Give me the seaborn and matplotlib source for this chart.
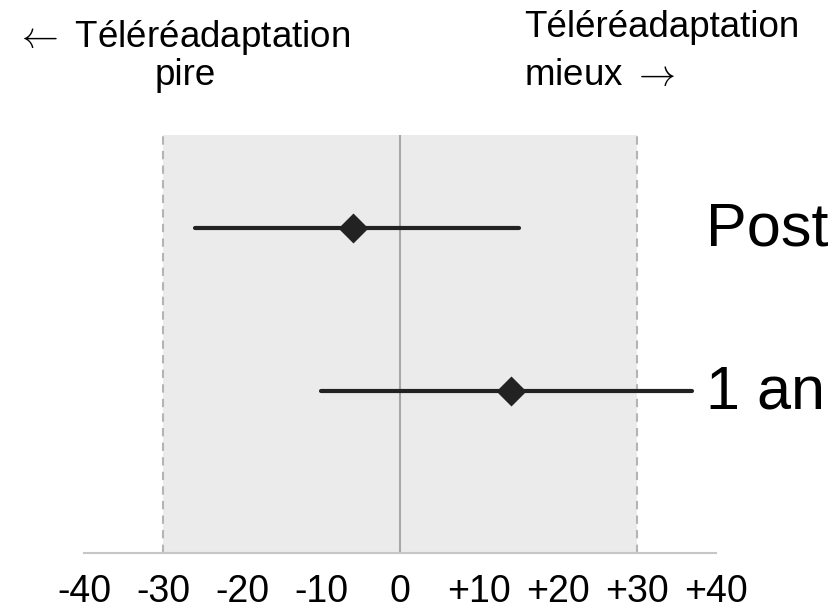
import numpy as np
import pandas as pd
import matplotlib
matplotlib.use('Agg')
import matplotlib.pyplot as plt
import seaborn as sns

# Data
moments = ['Post', '1 an']
ci_low = [-26, -10]
estimate = [-6, 14]
ci_high = [15, 37]
tick_values = [-40, -30, -20, -10, 0, 10, 20, 30, 40]
tick_labels = ['-40', '-30', '-20', '-10', '0', '+10', '+20', '+30', '+40']

# long form: low / estimate / high per moment -> median + (min, max) interval
df = pd.DataFrame({
    'moment': np.repeat(moments, 3),
    'value': np.ravel(np.column_stack([ci_low, estimate, ci_high])),
})

sns.set_style('white')
plt.rcParams['font.family'] = ['Liberation Sans', 'DejaVu Sans']
plt.rcParams['mathtext.fontset'] = 'cm'
plt.rcParams['text.color'] = 'black'

fig = plt.figure(figsize=(8.4, 6.12), dpi=100)
ax = fig.add_axes([84 / 840, 1 - 553 / 612, 632 / 840, (553 - 135) / 612])

# shaded zone and reference lines
ax.axvspan(-30, 30, color='#ebebeb', zorder=0, lw=0)
ax.axvline(0, color='#a8a8a8', lw=1.5, zorder=1)
for v in (-30, 30):
    ax.axvline(v, color='#b4b4b4', lw=1.5, ls=(0, (4, 3)), zorder=1)

sns.pointplot(data=df, x='value', y='moment', orient='h', order=moments,
              estimator='median', errorbar=lambda v: (v.min(), v.max()),
              color='#222222', marker='D', markersize=13, linestyle='none',
              err_kws={'linewidth': 3.0, 'solid_capstyle': 'round'}, ax=ax)

for i, m in enumerate(moments):
    ax.annotate(m, xy=(38.7, i), xytext=(0, 3), textcoords='offset points',
                fontsize=44, ha='left', va='center_baseline', color='black',
                annotation_clip=False)

ax.set_xlim(-40, 40)
ax.set_ylim(1.994, -0.57)
ax.set_xlabel('')
ax.set_ylabel('')
ax.set_yticks([])
ax.set_xticks(tick_values)
ax.set_xticklabels(tick_labels, fontsize=27,
                   family=['Liberation Sans Narrow', 'Liberation Sans', 'DejaVu Sans'])
ax.tick_params(axis='x', direction='in', length=5, color='#dcdcdc',
               labelcolor='black', pad=15)

for side in ('top', 'left', 'right'):
    ax.spines[side].set_visible(False)
ax.spines['bottom'].set_color('#c6c6c6')
ax.spines['bottom'].set_linewidth(1.5)

# direction annotations
fig.text(15 / 840, 1 - 47 / 612, r'$\leftarrow$ Téléréadaptation', fontsize=26.5, va='baseline', ha='left')
fig.text(185 / 840, 1 - 85 / 612, 'pire', fontsize=26.5, va='baseline', ha='center')
fig.text(524 / 840, 1 - 37 / 612, 'Téléréadaptation', fontsize=26.5, va='baseline', ha='left')
fig.text(524 / 840, 1 - 85 / 612, r'mieux $\rightarrow$', fontsize=26.5, va='baseline', ha='left')

fig.savefig('out.png', dpi=100)
